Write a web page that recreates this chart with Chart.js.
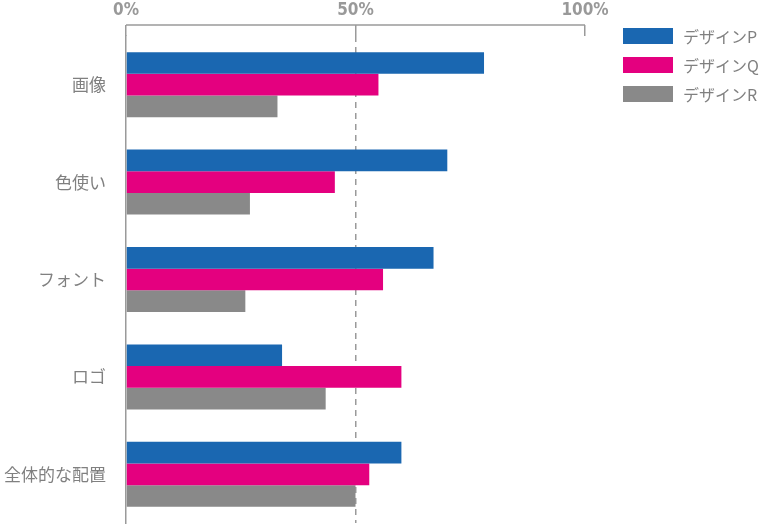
<!DOCTYPE html>
<html>
<head>
<meta charset="utf-8">
<script src="https://cdn.jsdelivr.net/npm/chart.js@4"></script>
<style>
  html, body { margin: 0; padding: 0; background: #fff; }
  #wrap { position: relative; width: 760px; height: 528px; }
  #legend { position: absolute; left: 623px; top: 28px; font-family: "Noto Sans CJK JP", sans-serif; }
  .item { display: flex; align-items: center; height: 16px; margin-bottom: 13px; }
  .box { width: 50px; height: 16px; margin-right: 10px; }
  .lbl { font-size: 16px; color: #808080; }
</style>
</head>
<body>
<div id="wrap">
  <canvas id="grafica" width="760" height="528"></canvas>
  <div id="legend"></div>
</div>
<script>
// -------------------------
// Datos
// -------------------------
const categorias = ['画像', '色使い', 'フォント', 'ロゴ', '全体的な配置'];
const series = ['デザインP', 'デザインQ', 'デザインR'];
const valoresP = [78, 70, 67, 34, 60];
const valoresQ = [55, 45.5, 56, 60, 53];
const valoresR = [33, 27, 26, 43.5, 50];
const ticksX = [0, 50, 100];

const colores = ['#1a67b1', '#e4007f', '#898989'];
const gris = '#9a9a9a';

// línea horizontal superior del eje
const lineaSuperior = {
    id: 'lineaSuperior',
    afterDraw(chart) {
        const x = chart.scales.x;
        const ctx = chart.ctx;
        const y = chart.chartArea.top - 11;
        ctx.save();
        ctx.strokeStyle = gris;
        ctx.lineWidth = 1.5;
        ctx.beginPath();
        ctx.moveTo(x.getPixelForValue(ticksX[0]), y);
        ctx.lineTo(x.getPixelForValue(ticksX[ticksX.length - 1]), y);
        ctx.stroke();
        ctx.restore();
    }
};

const datos = [valoresP, valoresQ, valoresR];

new Chart(document.getElementById('grafica'), {
    type: 'bar',
    data: {
        labels: categorias,
        datasets: series.map((s, i) => ({
            label: s,
            data: datos[i],
            backgroundColor: colores[i],
            categoryPercentage: 0.667,
            barPercentage: 1.0
        }))
    },
    options: {
        indexAxis: 'y',
        responsive: false,
        animation: false,
        layout: { padding: { left: 0, right: 175, top: 0, bottom: 5 } },
        plugins: {
            legend: { display: false },
            tooltip: { enabled: false }
        },
        scales: {
            x: {
                position: 'top',
                min: 0,
                max: 100,
                afterBuildTicks: s => { s.ticks = ticksX.map(v => ({ value: v })); },
                afterFit: s => { s.height = 36; },
                ticks: {
                    callback: v => v + '%',
                    color: '#999',
                    padding: 4,
                    maxRotation: 0,
                    font: { family: '"Liberation Sans Narrow", "DejaVu Sans Condensed", sans-serif', size: 17, weight: 'bold' }
                },
                grid: {
                    color: c => (c.tick && c.tick.value === 50) ? gris : 'transparent',
                    lineWidth: 1.5,
                    tickColor: gris,
                    tickLength: 11,
                    tickWidth: 1.5,
                    tickBorderDash: []
                },
                border: { display: false, dash: [6, 5] }
            },
            y: {
                afterFit: s => {
                    s.width = 126;
                    s.paddingTop = 0;
                    s.paddingBottom = 0;
                },
                ticks: {
                    color: '#808080',
                    padding: 20,
                    font: { family: '"Noto Sans CJK JP", sans-serif', size: 17 }
                },
                grid: { display: false, drawTicks: false },
                border: { display: true, color: gris, width: 1.5 }
            }
        }
    },
    plugins: [lineaSuperior]
});

// -------------------------
// Leyenda
// -------------------------
const leyenda = document.getElementById('legend');
series.forEach((s, i) => {
    const item = document.createElement('div');
    item.className = 'item';
    item.innerHTML = '<span class="box" style="background:' + colores[i] + '"></span><span class="lbl">' + s + '</span>';
    leyenda.appendChild(item);
});
</script>
</body>
</html>
